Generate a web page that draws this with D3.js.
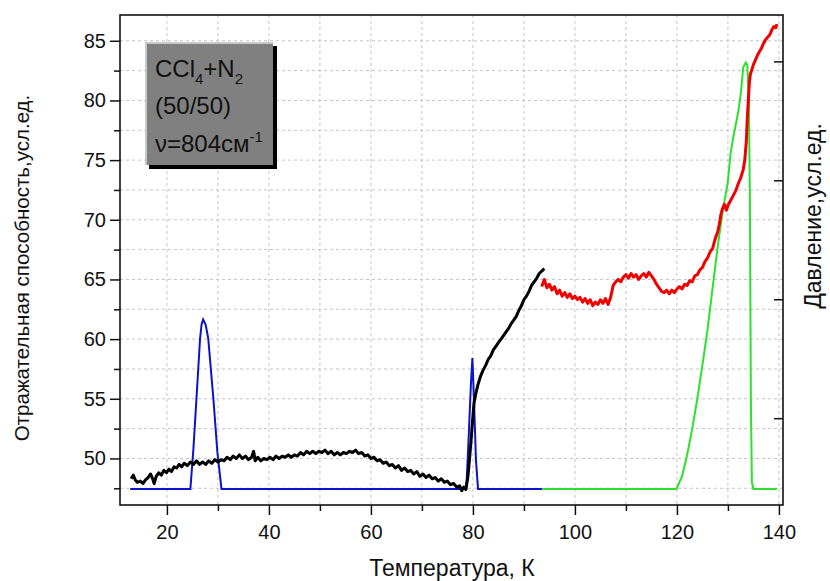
<!DOCTYPE html>
<html><head><meta charset="utf-8">
<script src="https://cdn.jsdelivr.net/npm/d3@7/dist/d3.min.js"></script>
<style>body{margin:0;background:#fff}svg{display:block}text{font-family:"Liberation Sans",Arial,sans-serif;fill:#111}</style>
</head><body><svg id="c" width="830" height="581"></svg>
<script>
// x tick labels
const xTicks = [20, 40, 60, 80, 100, 120, 140];
const xMinor = [30, 50, 70, 90, 110, 130];
const yTicks = [50, 55, 60, 65, 70, 75, 80, 85];
const yMinor = [47.5, 52.5, 57.5, 62.5, 67.5, 72.5, 77.5, 82.5];
const rTicks = [2, 4, 6, 8];

// reflectance (left axis), black part [T, value]
const black = [[13.0,48.3],[13.4,48.6],[13.8,48.2],[14.2,48.0],[14.8,48.1],[15.3,47.9],[15.8,48.2],[16.3,48.4],[16.8,48.7],[17.2,48.3],[17.5,47.9],[17.9,48.5],[18.4,48.8],[18.9,48.6],[19.4,49.0],[19.9,48.8],[20.4,49.1],[20.9,48.9],[21.4,49.3],[21.9,49.2],[22.4,49.5],[22.9,49.3],[23.4,49.6],[24.0,49.4],[24.6,49.7],[25.2,49.5],[25.8,49.8],[26.4,49.5],[27.0,49.7],[27.6,49.5],[28.2,49.8],[28.8,49.6],[29.4,49.9],[30.0,49.7],[30.6,49.9],[31.2,49.8],[31.8,50.1],[32.4,49.9],[33.0,50.2],[33.6,50.0],[34.2,50.3],[34.8,50.0],[35.4,50.2],[36.0,49.9],[36.6,50.1],[37.0,50.6],[37.3,49.8],[37.8,50.1],[38.4,49.8],[39.0,50.0],[39.6,49.9],[40.2,50.1],[40.8,49.9],[41.4,50.2],[42.0,50.0],[42.6,50.2],[43.2,50.1],[43.8,50.3],[44.4,50.1],[45.0,50.3],[45.6,50.2],[46.2,50.5],[46.8,50.3],[47.4,50.6],[48.0,50.4],[48.6,50.6],[49.2,50.4],[49.8,50.6],[50.4,50.5],[51.0,50.7],[51.6,50.4],[52.2,50.6],[52.8,50.3],[53.4,50.5],[54.0,50.3],[54.6,50.5],[55.2,50.4],[55.8,50.6],[56.4,50.5],[57.0,50.7],[57.6,50.4],[58.2,50.5],[58.8,50.2],[59.4,50.3],[60.0,50.0],[60.6,50.1],[61.2,49.8],[61.8,49.9],[62.4,49.6],[63.0,49.7],[63.6,49.4],[64.2,49.5],[64.8,49.2],[65.4,49.4],[66.0,49.0],[66.6,49.2],[67.2,48.9],[67.8,49.0],[68.4,48.7],[69.0,48.9],[69.6,48.5],[70.2,48.7],[70.8,48.4],[71.4,48.6],[72.0,48.3],[72.6,48.4],[73.2,48.1],[73.8,48.3],[74.4,48.0],[75.0,48.1],[75.6,47.8],[76.2,47.9],[76.8,47.6],[77.4,47.7],[77.8,47.3],[78.2,47.6],[78.6,47.4],[79.0,48.4],[79.3,49.8],[79.6,51.3],[79.9,53.0],[80.2,54.6],[80.6,55.5],[81.0,56.2],[81.5,56.9],[82.0,57.4],[82.5,57.8],[83.0,58.3],[83.5,58.6],[84.0,59.1],[84.5,59.4],[85.0,59.7],[85.5,60.0],[86.0,60.3],[86.5,60.6],[87.0,60.9],[87.5,61.3],[88.0,61.6],[88.5,61.9],[89.0,62.4],[89.5,62.8],[90.0,63.3],[90.5,63.6],[91.0,64.0],[91.5,64.5],[92.0,64.8],[92.5,65.1],[93.0,65.5],[93.5,65.7],[94.0,65.9]];

// reflectance (left axis), red part
const red = [[93.5,64.4],[94.0,65.0],[94.5,64.3],[95.0,64.6],[95.5,64.1],[96.0,64.4],[96.5,63.8],[97.0,64.1],[97.5,63.6],[98.0,63.9],[98.5,63.5],[99.0,63.8],[99.5,63.4],[100.0,63.6],[100.5,63.3],[101.0,63.5],[101.5,63.1],[102.0,63.4],[102.5,63.0],[103.0,63.3],[103.5,62.8],[104.0,63.1],[104.5,62.9],[105.0,63.3],[105.5,63.0],[106.0,63.4],[106.5,62.9],[107.0,63.5],[107.5,64.5],[108.0,64.8],[108.5,65.0],[109.0,64.8],[109.5,65.2],[110.0,65.4],[110.5,65.1],[111.0,65.5],[111.5,65.2],[112.0,65.4],[112.5,65.0],[113.0,65.3],[113.5,65.5],[114.0,65.2],[114.5,65.6],[115.0,65.3],[115.5,65.0],[116.0,64.6],[116.5,64.3],[117.0,64.0],[117.5,63.9],[118.0,64.1],[118.5,63.8],[119.0,64.1],[119.5,63.9],[120.0,64.2],[120.5,64.4],[121.0,64.2],[121.5,64.6],[122.0,64.5],[122.5,64.9],[123.0,64.8],[123.5,65.3],[124.0,65.4],[124.5,65.8],[125.0,66.0],[125.5,66.5],[126.0,66.8],[126.5,67.3],[127.0,67.6],[127.5,68.4],[128.0,69.0],[128.3,69.6],[128.6,70.4],[128.9,70.9],[129.3,71.3],[129.7,70.8],[130.0,71.2],[130.5,71.6],[131.0,72.0],[131.5,72.4],[132.0,73.0],[132.5,73.5],[133.0,74.2],[133.3,75.0],[133.6,76.5],[133.8,78.5],[134.0,80.0],[134.2,81.5],[134.4,82.2],[134.7,82.6],[135.0,83.0],[135.4,83.4],[135.8,83.8],[136.2,84.1],[136.6,84.4],[137.0,84.8],[137.4,85.1],[137.8,85.3],[138.2,85.5],[138.6,85.9],[139.0,86.2],[139.4,86.1],[139.6,86.4]];

// pressure (right axis), blue part
const blue = [[12.8,0.81],[24.6,0.81],[25.2,1.49],[25.8,2.34],[26.5,3.34],[26.8,3.58],[27.1,3.66],[27.6,3.57],[28.1,3.34],[29.1,2.34],[29.9,1.42],[30.7,0.81],[78.7,0.81],[79.2,1.75],[79.6,2.56],[79.9,3.01],[80.2,2.33],[80.6,1.29],[81.0,0.81],[93.6,0.81]];

// pressure (right axis), green part
const green = [[93.6,0.81],[119.9,0.81],[121.0,1.02],[122.0,1.38],[123.0,1.82],[124.0,2.33],[125.0,2.89],[126.0,3.49],[127.0,4.19],[128.0,4.89],[129.0,5.49],[130.0,5.98],[130.5,6.44],[131.0,6.70],[132.0,7.14],[132.5,7.44],[133.0,7.90],[133.5,7.98],[133.8,7.94],[134.1,7.34],[134.3,5.74],[134.5,2.32],[134.7,0.92],[135.0,0.81],[139.6,0.81]];

const svg = d3.select("#c");
const L = 120, R = 783, T = 15, B = 505;
const x = d3.scaleLinear().domain([10.8, 140.8]).range([L, R]);
const y = d3.scaleLinear().domain([46.1, 87.16]).range([B, T]);
const yR = d3.scaleLinear().domain([0.54, 8.78]).range([B, T]);

// grid
const g = svg.append("g");
g.selectAll("line.gv").data(xTicks.concat(xMinor)).join("line")
  .attr("x1", d => x(d)).attr("x2", d => x(d)).attr("y1", T).attr("y2", B)
  .attr("stroke", "#c4c4c4").attr("stroke-width", 1).attr("stroke-dasharray", "3,3");
g.selectAll("line.gh").data(yTicks.concat(yMinor)).join("line")
  .attr("y1", d => y(d)).attr("y2", d => y(d)).attr("x1", L).attr("x2", R)
  .attr("stroke", "#c4c4c4").attr("stroke-width", 1).attr("stroke-dasharray", "3,3");

// lines
const lineL = d3.line().x(d => x(d[0])).y(d => y(d[1]));
const lineR = d3.line().x(d => x(d[0])).y(d => yR(d[1]));
svg.append("path").datum(blue).attr("d", lineR).attr("fill", "none").attr("stroke", "#0a14c8").attr("stroke-width", 2);
svg.append("path").datum(green).attr("d", lineR).attr("fill", "none").attr("stroke", "#2ee02e").attr("stroke-width", 2);
svg.append("path").datum(black).attr("d", lineL).attr("fill", "none").attr("stroke", "#000").attr("stroke-width", 3).attr("stroke-linejoin", "round");
svg.append("path").datum(red).attr("d", lineL).attr("fill", "none").attr("stroke", "#f00000").attr("stroke-width", 3).attr("stroke-linejoin", "round");

// axes
svg.append("g").attr("transform", `translate(0,${B})`)
  .call(d3.axisBottom(x).tickValues(xTicks).tickSize(10).tickPadding(10).tickFormat(d3.format("d")));
svg.append("g").attr("transform", `translate(0,${B})`)
  .call(d3.axisBottom(x).tickValues(xMinor).tickSize(6).tickFormat(""));
svg.append("g").attr("transform", `translate(${L},0)`)
  .call(d3.axisLeft(y).tickValues(yTicks).tickSize(10).tickPadding(4).tickFormat(d3.format("d")));
svg.append("g").attr("transform", `translate(${L},0)`)
  .call(d3.axisLeft(y).tickValues(yMinor).tickSize(6).tickFormat(""));
svg.append("g").attr("transform", `translate(${R},0)`)
  .call(d3.axisRight(yR).tickValues(rTicks).tickSize(-9).tickFormat(""));
svg.selectAll(".domain").remove();
svg.selectAll(".tick line").attr("stroke", "#111").attr("stroke-width", 1.5);
svg.selectAll(".tick text").style("font-size", "20px").attr("fill", "#111");

svg.append("rect").attr("x", L).attr("y", T).attr("width", R - L).attr("height", B - T)
  .attr("fill", "none").attr("stroke", "#111").attr("stroke-width", 1.6);

// axis titles
svg.append("text").attr("x", 452).attr("y", 576).attr("text-anchor", "middle")
  .style("font-size", "23px").text("Температура, К");
svg.append("text").attr("transform", "translate(29,268) rotate(-90)").attr("text-anchor", "middle")
  .style("font-size", "20.5px").text("Отражательная способность,усл.ед.");
svg.append("text").attr("transform", "translate(821,216) rotate(-90)").attr("text-anchor", "middle")
  .style("font-size", "23px").text("Давление,усл.ед.");

// label box
const bx = 145, by = 42, bw = 128, bh = 123;
svg.append("rect").attr("x", bx + 4).attr("y", by + 4).attr("width", bw).attr("height", bh).attr("fill", "#000");
svg.append("rect").attr("x", bx).attr("y", by).attr("width", bw).attr("height", bh).attr("fill", "#c8c8c8");
svg.append("rect").attr("x", bx + 2).attr("y", by + 2).attr("width", bw - 2).attr("height", bh - 2).attr("fill", "#808080");
const t1 = svg.append("text").attr("x", 155).attr("y", 77).style("font-size", "24px");
t1.append("tspan").text("CCl");
t1.append("tspan").attr("dy", 7).style("font-size", "15px").text("4");
t1.append("tspan").attr("dy", -7).text("+N");
t1.append("tspan").attr("dy", 7).style("font-size", "15px").text("2");
svg.append("text").attr("x", 155).attr("y", 114).style("font-size", "24px").text("(50/50)");
const t3 = svg.append("text").attr("x", 155).attr("y", 152).style("font-size", "24px");
t3.append("tspan").text("ν=804см");
t3.append("tspan").attr("dy", -10).style("font-size", "15px").text("-1");
</script></body></html>
